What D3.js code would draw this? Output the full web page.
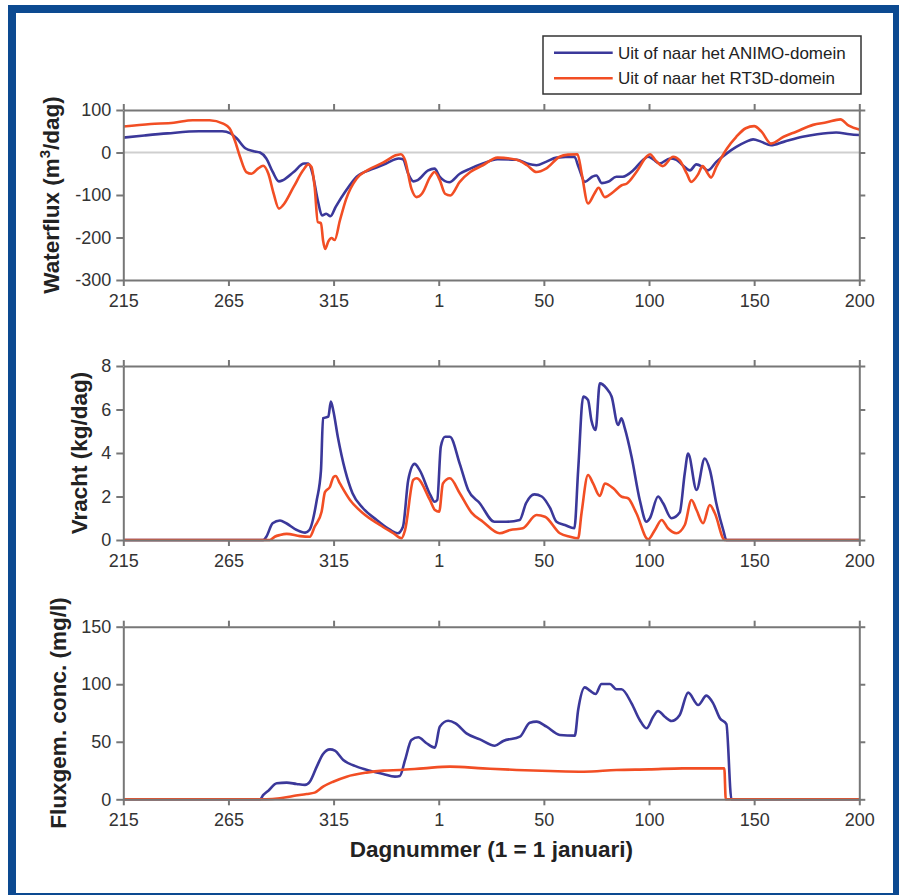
<!DOCTYPE html>
<html>
<head>
<meta charset="utf-8">
<script src="https://cdn.jsdelivr.net/npm/d3@7"></script>
<style>
  html, body { margin: 0; padding: 0; background: #fff; }
  svg { display: block; font-family: "Liberation Sans", Arial, sans-serif; }
  .axis path, .axis line { stroke: #777; stroke-width: 2; }
  .axis text { fill: #333; font-size: 18px; }
  .ytitle, .xtitle { font-weight: bold; fill: #222; font-size: 22.5px; }
</style>
</head>
<body>
<div id="chart"></div>
<script>
// x = days since day 215 (215 ... 365, 1 ... 200)
const tickPos = [0, 50, 100, 150, 200, 250, 300, 350];
const tickLabels = ["215", "265", "315", "1", "50", "100", "150", "200"];

const seriesNames = ["Uit of naar het ANIMO-domein", "Uit of naar het RT3D-domein"];
const seriesColors = ["#3b389a", "#f24e24"];

// Waterflux (m3/dag)
const fluxAnimo = [[0,35],[10,40],[21,45],[36,50],[47,50],[51,45],[54,33],[58,10],[62,3],[65,0],[68,-14],[71,-45],[74,-68],[76,-65],[81,-46],[86,-26],[88,-26],[90,-50],[92.5,-113],[94.5,-148],[96.5,-144],[98.5,-150],[101,-128],[106,-89],[111,-57],[119,-38],[125,-26],[131,-14],[133,-16],[135.5,-50],[138,-68],[140,-65],[145,-42],[148,-38],[150.5,-57],[155,-70],[160,-50],[165,-38],[171,-26],[178,-16],[187,-17],[192,-26],[196.5,-30],[201,-22],[206,-12],[214.5,-10],[216.5,-34],[219.5,-69],[223,-57],[225,-54],[227.5,-72],[230.5,-69],[234.5,-57],[237.5,-57],[242.5,-42],[247,-18],[249.5,-10],[252,-16],[255,-26],[260,-14],[263,-17],[266,-30],[269.5,-42],[272.5,-28],[275.5,-34],[278,-42],[282,-22],[287,-2],[291.5,13],[296,25],[299.5,31],[303.5,25],[308,17],[314,25],[323,37],[330,43],[339,47],[345.5,43],[350,41]];
const fluxRt3d = [[0,61],[13,67],[24,70],[33,76],[41,76],[47.5,68],[50.5,57],[53,29],[55.5,-10],[58.5,-46],[61,-50],[64,-38],[66.5,-31],[69,-50],[71.5,-97],[74,-132],[76,-124],[81,-81],[85.5,-42],[88,-28],[89.5,-34],[91,-81],[92.5,-164],[94,-166],[95,-207],[96,-227],[97.5,-209],[99,-201],[100.5,-206],[103,-160],[106,-109],[111,-61],[116,-42],[123.5,-24],[130,-6],[132,-4],[134,-18],[137,-85],[139.5,-105],[142,-97],[146,-57],[148,-46],[150.5,-65],[153,-97],[155.5,-101],[160,-69],[165,-46],[171,-30],[178,-12],[187,-17],[192,-30],[196.5,-46],[201,-38],[207.5,-10],[211.5,-5],[216,-4],[218,-50],[221,-120],[224,-97],[226,-83],[229,-105],[233,-93],[237,-77],[239.5,-73],[244,-46],[249,-9],[250.5,-4],[253,-18],[256.5,-32],[261.5,-10],[264.5,-18],[268,-50],[270,-69],[273.5,-50],[275.5,-32],[278,-50],[279.5,-59],[282,-34],[287,9],[291.5,37],[296,57],[300,62],[303.5,49],[308,21],[314,37],[320,49],[328,65],[334.5,71],[341,78],[345,63],[350,54]];

// Vracht (kg/dag)
const vrachtAnimo = [[0,0],[66.5,0],[68,0.15],[71,0.77],[74.5,0.9],[77.5,0.77],[82.5,0.46],[86.5,0.34],[88.5,0.46],[92,1.84],[94,3.2],[95,5.6],[97.5,5.67],[98.7,6.36],[99.8,5.98],[102,4.75],[105.5,3.2],[109,2.15],[114,1.46],[120.5,0.92],[127,0.46],[130.5,0.31],[133,0.61],[135.5,2.76],[138.5,3.5],[141,3.2],[146,2.07],[148,1.76],[149.3,1.84],[151,4.3],[153,4.75],[155.3,4.75],[160,3.5],[164,2.3],[169.5,1.69],[176.5,0.84],[182,0.84],[188.5,0.92],[191.5,1.69],[195.5,2.1],[199,2.0],[203,1.46],[206,0.84],[210,0.69],[214.5,0.54],[216.3,3.2],[218.7,6.6],[221,6.44],[222.6,5.5],[224.6,5.06],[226.6,7.2],[229.8,6.97],[232.2,6.6],[235.3,5.29],[236.9,5.6],[238.5,5.13],[241.7,3.83],[245.6,1.84],[248.8,0.84],[250.4,1.0],[254.3,2.0],[256.7,1.69],[260.7,1.0],[264.6,1.26],[267,3.07],[268.6,3.98],[272.6,2.3],[276.5,3.75],[279,3.2],[282,1.69],[285.3,0.46],[286.8,0],[350,0]];
const vrachtRt3d = [[0,0],[69.7,0],[72,0.15],[74.5,0.23],[77.7,0.28],[84,0.18],[88.7,0.15],[91,0.61],[94.3,1.3],[95.9,2.2],[98.3,2.45],[100,2.9],[101,2.94],[103,2.6],[107.8,1.84],[114,1.23],[122,0.69],[128.4,0.31],[132.3,0.08],[134,0.46],[137.9,2.76],[139.5,2.84],[145.8,1.84],[148.2,1.38],[150.2,1.3],[152,2.6],[155.3,2.84],[160,2.15],[165.6,1.26],[171,0.84],[179,0.31],[184,0.46],[190,0.54],[196.5,1.15],[200.5,1.07],[207.6,0.31],[212.4,0.15],[216.3,0.08],[217.9,1.23],[221,2.99],[223.4,2.6],[226.6,2.02],[229,2.6],[233,2.38],[237,1.99],[240,1.92],[244,1.23],[249.6,0.03],[252.8,0.46],[256,0.92],[259,0.54],[263,0.31],[267,0.69],[270.2,1.84],[272.6,1.38],[275.7,0.77],[278.9,1.61],[281.3,1.23],[286,0],[350,0]];

// Fluxgem. conc. (mg/l)
const concAnimo = [[0,0],[65,0],[66.6,3.8],[69,7.5],[73,13.9],[77.7,14.5],[82.4,13.3],[86.4,12.5],[88.7,15.3],[92,28.4],[95,39.4],[98.3,43.4],[100.6,42.3],[104.6,34.2],[111,28.4],[117.3,24.9],[123.6,22],[129.2,19.7],[131.5,20.3],[134,34.2],[137,51.5],[140.3,53.9],[144.2,48.7],[148.2,44.9],[150.5,63.1],[154.5,68.3],[158,66],[163.2,57.3],[169.6,52.1],[176.7,46.6],[180.7,50.7],[188.6,54.4],[193.3,66.6],[196.5,67.5],[201.3,63.1],[207.6,55.9],[214.7,55.3],[216.3,77.6],[219.5,97.3],[221.9,94.4],[224.6,91.5],[227.4,100.2],[231.4,100.2],[234.5,95.6],[236.9,95.6],[241.7,83.4],[245.6,68.9],[248.8,61.7],[252,71.8],[254.3,76.7],[257.5,71.8],[260.7,68.1],[264.6,73.3],[268.6,92.7],[273.4,82],[277.3,90.1],[280.5,83.4],[283.7,70.4],[286.8,65.4],[289.2,0],[350,0]];
const concRt3d = [[0,0],[68,0],[74.5,0.9],[80.8,2.9],[87.2,4.6],[91,5.8],[95,11],[99.8,15.3],[106.2,19.7],[115.7,23.2],[123.6,24.9],[131.5,25.5],[142.6,26.9],[155.3,28.4],[171,26.9],[187,25.5],[203,24.6],[219,24],[234.5,25.5],[250,26],[266,26.9],[285.8,26.9],[286.5,0],[350,0]];

const W = 899, H = 895;
const plotLeft = 123.3, plotRight = 859.3;

const panels = [
  { title: "Waterflux (m", sup: "3", after: "/dag)", top: 110, bottom: 280, domain: [-300, 100], ticks: [-300, -200, -100, 0, 100], series: [fluxAnimo, fluxRt3d], zero: true, titleX: 59 },
  { title: "Vracht (kg/dag)", top: 366, bottom: 540, domain: [0, 8], ticks: [0, 2, 4, 6, 8], series: [vrachtAnimo, vrachtRt3d], zero: false, titleX: 87 },
  { title: "Fluxgem. conc. (mg/l)", top: 626.7, bottom: 799.3, domain: [0, 150], ticks: [0, 50, 100, 150], series: [concAnimo, concRt3d], zero: false, titleX: 66 }
];

const svg = d3.select("#chart").append("svg")
    .attr("width", W)
    .attr("height", H);

// blue frame
svg.append("rect").attr("x", 8).attr("y", 5).attr("width", W - 8).attr("height", H - 5).attr("fill", "#0c4a91");
svg.append("rect").attr("x", 16).attr("y", 13).attr("width", 877).attr("height", 880).attr("fill", "#fff");

const x = d3.scaleLinear().domain([0, 350]).range([plotLeft, plotRight]);

panels.forEach(p => {
    const y = d3.scaleLinear().domain(p.domain).range([p.bottom, p.top]);
    const g = svg.append("g");

    if (p.zero) {
        g.append("line")
            .attr("x1", x(0)).attr("x2", x(350))
            .attr("y1", y(0)).attr("y2", y(0))
            .attr("stroke", "#cfcfcf").attr("stroke-width", 2);
    }

    const line = d3.line()
        .x(d => x(d[0]))
        .y(d => y(d[1]))
        .curve(d3.curveMonotoneX);

    p.series.forEach((s, i) => {
        g.append("path")
            .datum(s)
            .attr("fill", "none")
            .attr("stroke", seriesColors[i])
            .attr("stroke-width", 2.6)
            .attr("stroke-linejoin", "round")
            .attr("d", line);
    });

    // box axes, ticks outward
    g.append("g").attr("class", "axis")
        .attr("transform", `translate(0,${p.bottom})`)
        .call(d3.axisBottom(x).tickValues(tickPos).tickFormat((d, i) => tickLabels[i]).tickSize(6).tickSizeOuter(0).tickPadding(8));
    g.append("g").attr("class", "axis")
        .attr("transform", `translate(0,${p.top})`)
        .call(d3.axisTop(x).tickValues(tickPos).tickFormat("").tickSize(6).tickSizeOuter(0));
    g.append("g").attr("class", "axis")
        .attr("transform", `translate(${plotLeft},0)`)
        .call(d3.axisLeft(y).tickValues(p.ticks).tickFormat(d => String(d)).tickSize(7).tickSizeOuter(0).tickPadding(5));
    g.append("g").attr("class", "axis")
        .attr("transform", `translate(${plotRight},0)`)
        .call(d3.axisRight(y).tickValues(p.ticks).tickFormat("").tickSize(6).tickSizeOuter(0));

    g.selectAll(".axis text").attr("font-family", null).attr("font-size", null);

    const t = g.append("text")
        .attr("class", "ytitle")
        .attr("text-anchor", "middle")
        .attr("transform", `translate(${p.titleX},${(p.top + p.bottom) / 2}) rotate(-90)`);
    t.append("tspan").text(p.title);
    if (p.sup) {
        t.append("tspan").attr("font-size", "15px").attr("dy", -9).text(p.sup);
        t.append("tspan").attr("dy", 9).text(p.after);
    }
});

svg.append("text")
    .attr("class", "xtitle")
    .attr("x", (plotLeft + plotRight) / 2)
    .attr("y", 857)
    .attr("text-anchor", "middle")
    .text("Dagnummer (1 = 1 januari)");

// legend
const legend = svg.append("g");
legend.append("rect")
    .attr("x", 543).attr("y", 36).attr("width", 318).attr("height", 58)
    .attr("fill", "#fff").attr("stroke", "#333").attr("stroke-width", 1.5);
seriesNames.forEach((name, i) => {
    const ly = 52.7 + i * 25.6;
    legend.append("line")
        .attr("x1", 554).attr("x2", 612.7)
        .attr("y1", ly).attr("y2", ly)
        .attr("stroke", seriesColors[i]).attr("stroke-width", 2.6);
    legend.append("text")
        .attr("x", 618).attr("y", ly + 6)
        .attr("font-size", "17px")
        .attr("fill", "#222")
        .text(name);
});
</script>
</body>
</html>
